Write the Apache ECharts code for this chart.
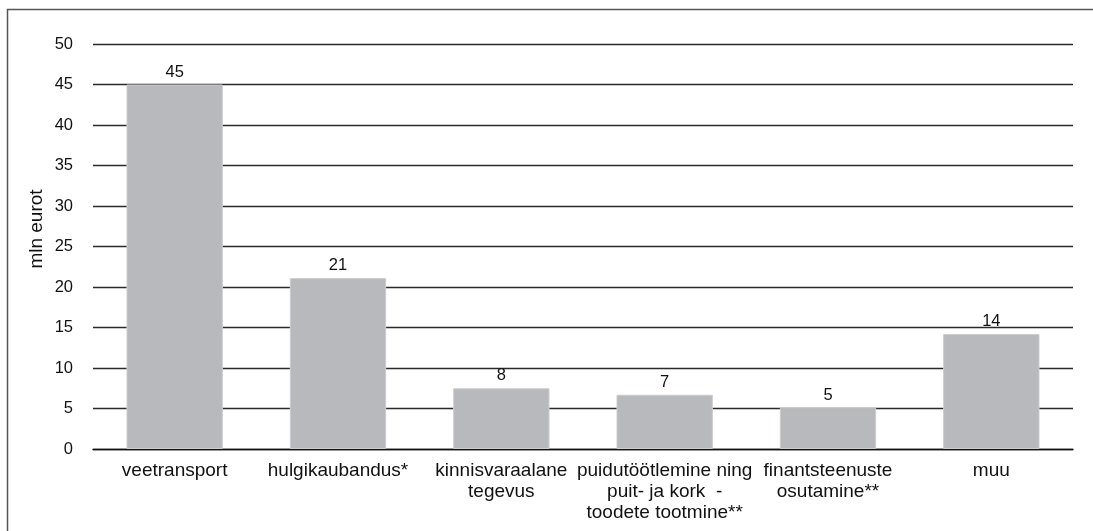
<!DOCTYPE html>
<html>
<head>
<meta charset="utf-8">
<script src="https://cdn.jsdelivr.net/npm/echarts@6/dist/echarts.min.js"></script>
<style>
html,body{margin:0;padding:0;background:#fff;}
#chart{width:1093px;height:531px;}
</style>
</head>
<body>
<div id="chart"></div>
<script>
const categories = ['veetransport', 'hulgikaubandus*', 'kinnisvaraalane\ntegevus', 'puidutöötlemine ning\npuit- ja kork  -\ntoodete tootmine**', 'finantsteenuste\nosutamine**', 'muu'];
const values = [45, 21.1, 7.5, 6.7, 5.1, 14.2];
const valueLabels = ['45', '21', '8', '7', '5', '14'];
const yAxisName = 'mln eurot';
const yMin = 0, yMax = 50, yStep = 5;

const chart = echarts.init(document.getElementById('chart'));
const font = '"Liberation Sans", Arial, Helvetica, sans-serif';
chart.setOption({
  animation: false,
  backgroundColor: '#fff',
  grid: {left: 93, right: 20, top: 44, bottom: 82, containLabel: false},
  graphic: [
    {type: 'rect', shape: {x: 7.5, y: 9.5, width: 1200, height: 700}, style: {fill: 'none', stroke: '#555', lineWidth: 1.5}, z: 0},
    {type: 'text', x: 37, y: 229, rotation: Math.PI / 2, style: {text: yAxisName, font: '19px ' + font, fill: '#111', textAlign: 'center', textVerticalAlign: 'middle'}}
  ],
  xAxis: {
    type: 'category',
    data: categories,
    axisLine: {show: true, lineStyle: {color: '#111', width: 1.3}},
    axisTick: {show: false},
    axisLabel: {interval: 0, color: '#111', fontFamily: font, fontSize: 19, lineHeight: 21, margin: 11, overflow: 'none'},
    splitLine: {show: false}
  },
  yAxis: {
    type: 'value',
    min: yMin, max: yMax, interval: yStep,
    axisLine: {show: false},
    axisTick: {show: false},
    axisLabel: {color: '#111', fontFamily: font, fontSize: 16.5, margin: 20},
    splitLine: {show: true, lineStyle: {color: '#2a2a2a', width: 1.3}}
  },
  series: [{
    type: 'bar',
    data: values,
    barWidth: '59%',
    itemStyle: {color: '#b8b9bc', borderColor: '#cdced0', borderWidth: 1},
    label: {
      show: true, position: 'top', distance: 4,
      color: '#111', fontFamily: font, fontSize: 16.5,
      formatter: p => valueLabels[p.dataIndex]
    }
  }]
});
</script>
</body>
</html>
